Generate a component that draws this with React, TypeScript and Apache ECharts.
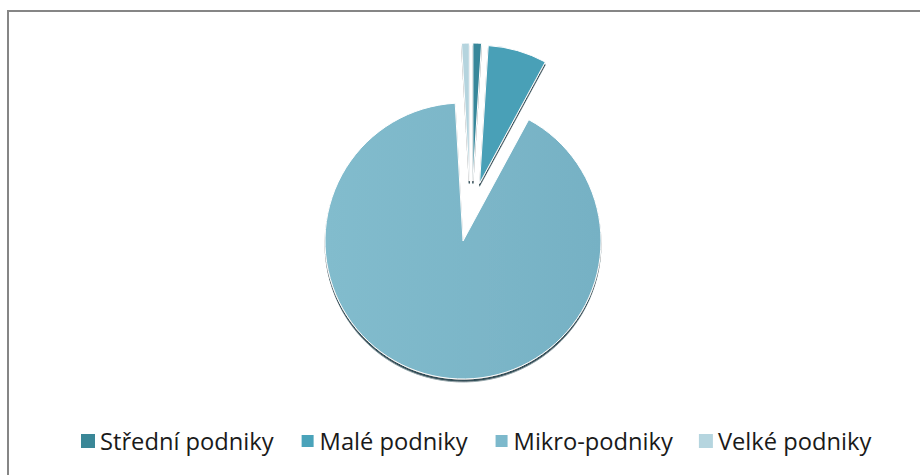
import React, { useEffect, useRef } from "react";
import * as echarts from "echarts";

const categories = ["Střední podniky", "Malé podniky", "Mikro-podniky", "Velké podniky"];
const values = [1.0, 6.9, 91.2, 0.9];
const exploded = [true, true, false, true];
// which slices are drawn by the second (slightly shifted) pie layer
const thinLayer = [true, false, false, true];
const colors = ["#37879A", "#4AA0B7", "#7DB7C9", "#B5D4DE"];
const legendColors = ["#3A8797", "#4AA3BA", "#7DB9CC", "#B5D5DF"];

export default function App() {
  const ref = useRef<HTMLDivElement>(null);
  useEffect(() => {
    if (!ref.current) return;
    const chart = echarts.init(ref.current, null, { renderer: "svg" });
    const sliceColor = (i: number) =>
      i === 2
        ? new echarts.graphic.LinearGradient(0, 0, 1, 0, [
            { offset: 0, color: "#82BCCD" },
            { offset: 1, color: "#76B1C4" },
          ])
        : colors[i];
    const makeData = (layerThin: boolean) =>
      categories.map((name, i) => {
        const visible = thinLayer[i] === layerThin;
        return {
          name,
          value: values[i],
          selected: exploded[i],
          itemStyle: visible
            ? { color: sliceColor(i) }
            : { color: "transparent", borderWidth: 0, shadowColor: "transparent", shadowBlur: 0 },
        };
      });
    const baseSeries = {
      type: "pie",
      radius: [0, 138],
      startAngle: 90,
      clockwise: true,
      selectedMode: "multiple",
      selectedOffset: 60,
      silent: true,
      label: { show: false },
      labelLine: { show: false },
      emphasis: { disabled: true },
      itemStyle: {
        borderColor: "#ffffff",
        borderWidth: 1,
        shadowColor: "rgba(15,45,55,0.85)",
        shadowBlur: 1,
        shadowOffsetY: 2.5,
      },
    };
    chart.setOption({
      animation: false,
      color: legendColors,
      graphic: [
        {
          type: "rect",
          shape: { x: 8, y: 11, width: 2000, height: 2000 },
          style: { fill: "none", stroke: "#868686", lineWidth: 2 },
          silent: true,
          z: 10,
        },
      ],
      legend: {
        left: 76,
        top: 424,
        orient: "horizontal",
        itemWidth: 14,
        itemHeight: 14,
        itemGap: 26,
        icon: "rect",
        selectedMode: false,
        textStyle: {
          fontFamily: "Open Sans",
          fontSize: 23.7,
          color: "#1a1a1a",
        },
        data: categories.map((name, i) => ({ name, itemStyle: { color: legendColors[i] } })),
      },
      series: [
        { ...baseSeries, name: "main", center: [463, 241], data: makeData(false) },
        { ...baseSeries, name: "thin", center: [471, 241], data: makeData(true) },
      ],
    });
    return () => chart.dispose();
  }, []);
  return (
    <div
      ref={ref}
      style={{ position: "absolute", left: 0, top: 0, width: 920, height: 475, background: "#fff" }}
    />
  );
}
